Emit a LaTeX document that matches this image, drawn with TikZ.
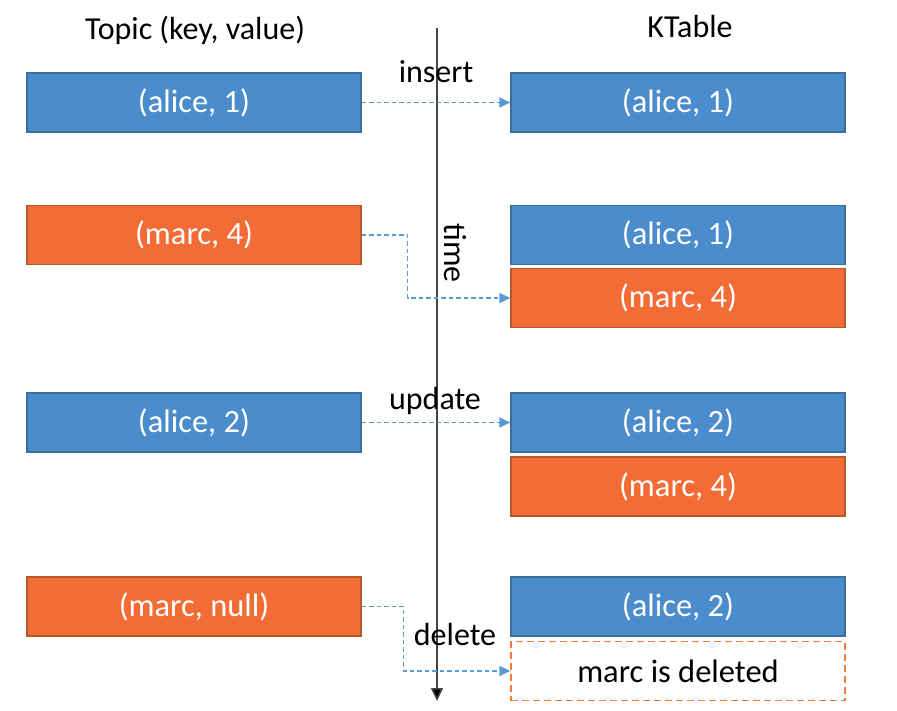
\documentclass[tikz,border=0pt]{standalone}
\usepackage{fontspec}
\setmainfont{Carlito}
\usetikzlibrary{arrows.meta}
\definecolor{bfill}{HTML}{4A8CCC}
\definecolor{bdraw}{HTML}{3B6E9E}
\definecolor{ofill}{HTML}{F46C35}
\definecolor{odraw}{HTML}{B5592A}
\definecolor{flow}{HTML}{5B9BD5}
\definecolor{dashor}{HTML}{F07D3A}
\definecolor{axis}{HTML}{454545}
\tikzset{
  rec/.style={rectangle, minimum width=334pt, minimum height=59pt, inner sep=0pt, line width=1.2pt, text=white, font=\fontsize{32.5}{38}\selectfont},
  bluebox/.style={rec, fill=bfill, draw=bdraw},
  orangebox/.style={rec, fill=ofill, draw=odraw},
  delbox/.style={rec, fill=white, draw=dashor, dash pattern=on 7pt off 4pt, text=black},
  flowarrow/.style={draw=flow, line width=1.3pt, dash pattern=on 4.5pt off 3pt, -{Triangle[length=11pt,width=10pt]}},
  lbl/.style={font=\fontsize{32}{38}\selectfont, inner sep=0pt},
}
\begin{document}
\begin{tikzpicture}[x=1pt,y=-1pt]
\useasboundingbox (0,0) rectangle (897,711);
% time axis
\coordinate (ttop) at (437,28);
\coordinate (tbot) at (437,701);
\draw[axis, line width=1.6pt, -{Triangle[length=13pt,width=12pt,fill=black]}] (ttop) -- (tbot);
% headings
\node[lbl] (topic) at (195,30) {Topic (key, value)};
\node[lbl] (ktable) at (690,27) {KTable};
% left boxes
\node[bluebox] (L1) at (194,102.5) {(alice, 1)};
\node[orangebox] (L2) at (194,235) {(marc, 4)};
\node[bluebox] (L3) at (194,422.5) {(alice, 2)};
\node[orangebox] (L4) at (194,606.5) {(marc, null)};
% right boxes
\node[bluebox] (R1) at (678,102.5) {(alice, 1)};
\node[bluebox] (R2a) at (678,235) {(alice, 1)};
\node[orangebox] (R2b) at (678,298) {(marc, 4)};
\node[bluebox] (R3a) at (678,422.5) {(alice, 2)};
\node[orangebox] (R3b) at (678,486.5) {(marc, 4)};
\node[bluebox] (R4a) at (678,606.5) {(alice, 2)};
\node[delbox] (R4b) at (678,671) {marc is deleted};
% flows
\draw[flowarrow] (L1.east) -- (R1.west);
\draw[flowarrow] (L2.east) -- ++(46,0) |- (R2b.west);
\draw[flowarrow] (L3.east) -- (R3a.west);
\draw[flowarrow] (L4.east) -- ++(42,0) |- (R4b.west);
% labels
\node[lbl] (ins) at (436,72) {insert};
\node[lbl, rotate=-90] (time) at (455,253) {time};
\node[lbl] (upd) at (435,401) {update};
\node[lbl] (del) at (455,635) {delete};
\end{tikzpicture}
\end{document}
